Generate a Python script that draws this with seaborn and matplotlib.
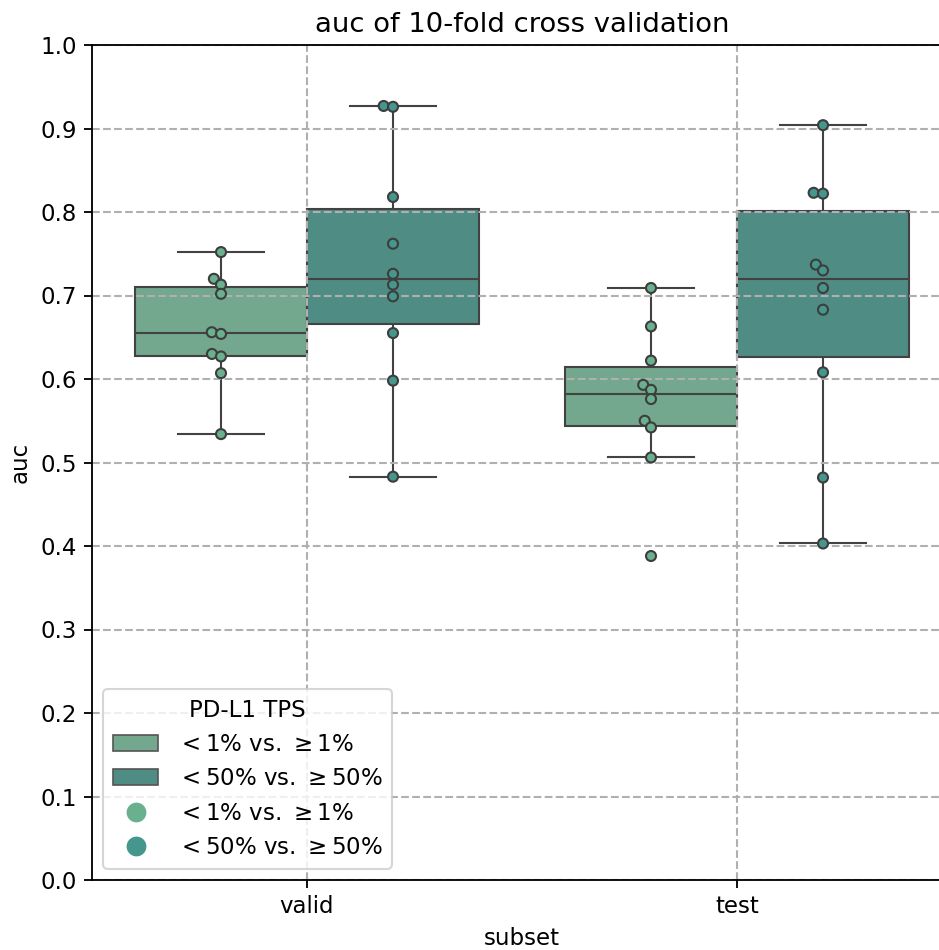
import pandas as pd
import matplotlib
matplotlib.use("Agg")
import matplotlib.pyplot as plt
from matplotlib.patches import Patch
from matplotlib.lines import Line2D
import seaborn as sns

# auc of each of the 10 folds
subsets = ["valid", "test"]
groups = [r"$<1\%$ vs. $\geq1\%$", r"$<50\%$ vs. $\geq50\%$"]

valid_1 = [0.752, 0.720, 0.713, 0.702, 0.656, 0.654, 0.630, 0.627, 0.607, 0.534]
valid_50 = [0.927, 0.926, 0.818, 0.762, 0.726, 0.713, 0.699, 0.655, 0.598, 0.483]
test_1 = [0.709, 0.663, 0.622, 0.593, 0.587, 0.576, 0.550, 0.542, 0.506, 0.388]
test_50 = [0.904, 0.823, 0.822, 0.737, 0.730, 0.709, 0.683, 0.608, 0.482, 0.403]

rows = []
for sub, grp, vals in [("valid", groups[0], valid_1), ("valid", groups[1], valid_50),
                       ("test", groups[0], test_1), ("test", groups[1], test_50)]:
    for v in vals:
        rows.append({"subset": sub, "PD-L1 TPS": grp, "auc": v})
df = pd.DataFrame(rows)

palette = ["#6ab08e", "#45968c"]

s = 1.1  # the reference is drawn a bit bigger than the defaults
plt.rcParams.update({
    "font.size": 10 * s, "axes.titlesize": 12 * s, "axes.labelsize": 10 * s,
    "xtick.labelsize": 10 * s, "ytick.labelsize": 10 * s,
    "legend.fontsize": 10 * s, "legend.title_fontsize": 10 * s,
    "axes.linewidth": 0.8 * s, "xtick.major.width": 0.8 * s, "ytick.major.width": 0.8 * s,
    "xtick.major.size": 3.5 * s, "ytick.major.size": 3.5 * s,
})

fig = plt.figure(figsize=(939 / 150, 950 / 150), dpi=150)
ax = fig.add_axes([92 / 939, 70 / 950, 860 / 939, 835 / 950])

sns.boxplot(data=df, x="subset", y="auc", hue="PD-L1 TPS", order=subsets,
            hue_order=groups, palette=palette, showfliers=False, ax=ax)
sns.swarmplot(data=df, x="subset", y="auc", hue="PD-L1 TPS", order=subsets,
              hue_order=groups, palette=palette, dodge=True, size=4.3,
              linewidth=0, zorder=3, ax=ax)

ax.set_ylim(0, 1.0)
ax.set_yticks([i / 10 for i in range(11)])
ax.set_axisbelow(False)
ax.grid(True, linestyle="--", color="#b0b0b0", linewidth=1)
for sp in ax.spines.values():
    sp.set_zorder(4)
ax.set_title("auc of 10-fold cross validation")

handles = [Patch(facecolor=sns.desaturate(c, 0.75), edgecolor="#555555", linewidth=0.8)
           for c in palette]
handles += [Line2D([], [], linestyle="", marker="o", markersize=9.5,
                   markerfacecolor=c, markeredgewidth=0) for c in palette]
ax.legend(handles, groups + groups, title="PD-L1 TPS", loc="lower left")

# lay the swarm out with the small dot size, then freeze it and draw bigger dots with an edge
fig.canvas.draw()
for coll in ax.collections:
    coll.__dict__.pop("draw", None)
    coll.set_sizes([4.8 ** 2])
    coll.set_linewidth(1)
    coll.set_edgecolor("#3d3d3d")

fig.savefig("out.png", dpi=150)
